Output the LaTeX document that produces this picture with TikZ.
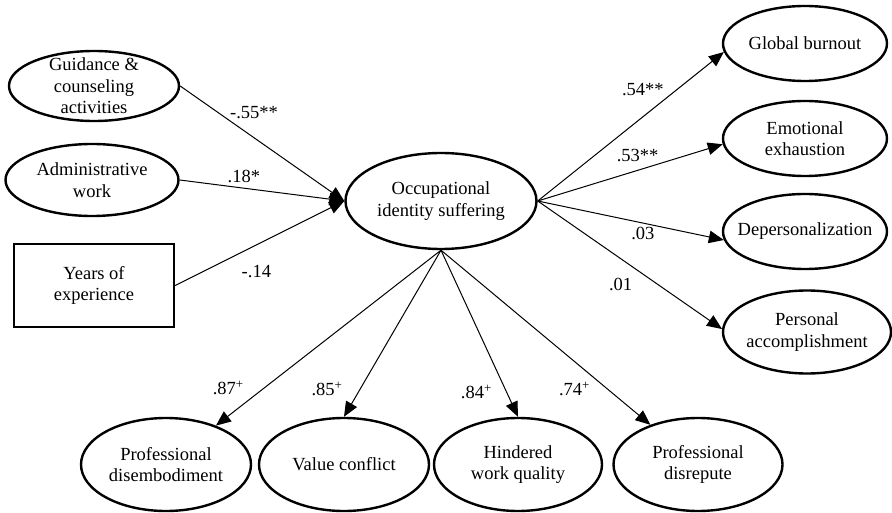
\documentclass[tikz,border=0pt]{standalone}
\usepackage{fontspec}
\setmainfont{Liberation Serif}
\usetikzlibrary{shapes.geometric, arrows.meta}

\begin{document}
\begin{tikzpicture}[x=1pt, y=-1pt,
    every node/.style={font=\fontsize{18.5}{21.5}\selectfont},
    latent/.style={ellipse, draw, line width=2.4pt, align=center,
      inner xsep=-15pt, inner ysep=-12pt},
    observed/.style={rectangle, draw, line width=2.4pt, align=center,
      minimum width=160, minimum height=83},
    path/.style={line width=1pt, -{Triangle[length=15pt, width=12.5pt]}},
    coef/.style={inner sep=0pt}]
  \useasboundingbox (0, 0) rectangle (892, 513);

  % Predictors
  \node [latent, minimum width=170, minimum height=70] (gca) at (94, 86)
    {Guidance \&\\ counseling\\ activities};
  \node [latent, minimum width=173, minimum height=72] (adm) at (92, 180)
    {Administrative\\ work};
  \node [observed] (yrs) at (94, 285.5) {Years of\\ experience};

  % Mediator
  \node [latent, minimum width=191, minimum height=96] (occ) at (441, 201)
    {Occupational\\ identity suffering};

  % Burnout outcomes
  \node [latent, minimum width=164, minimum height=75] (gb) at (805, 43.5)
    {Global burnout};
  \node [latent, minimum width=164, minimum height=75] (ee) at (805, 138.5)
    {Emotional\\ exhaustion};
  \node [latent, minimum width=164, minimum height=75] (dp) at (805, 231.5)
    {Depersonalization};
  \node [latent, minimum width=168, minimum height=83] (pa) at (807, 332)
    {Personal\\ accomplishment};

  % Dimensions of suffering
  \node [latent, minimum width=170, minimum height=93] (pd) at (166, 464.5)
    {Professional\\ disembodiment};
  \node [latent, minimum width=170, minimum height=93] (vc) at (344, 464.5)
    {Value conflict};
  \node [latent, minimum width=168, minimum height=93] (hw) at (518, 464.5)
    {Hindered\\ work quality};
  \node [latent, minimum width=169, minimum height=93] (pr) at (698, 464.5)
    {Professional\\ disrepute};

  % Paths into the mediator
  \draw [path] (gca.east) -- node [coef, pos=0.45, yshift=25pt] {-.55**} (occ.west);
  \draw [path] (adm.east) -- node [coef, pos=0.39, yshift=12pt] {.18*} (occ.west);
  \draw [path] (yrs.east) -- node [coef, pos=0.48, yshift=-27pt] {-.14} (occ.west);

  % Paths out to burnout
  \draw [path] (occ.east) -- node [coef, pos=0.565, yshift=27pt] {.54**} (gb.186);
  \draw [path] (occ.east) -- node [coef, pos=0.54, yshift=15pt] {.53**} (ee.184);
  \draw [path] (occ.east) -- node [coef, pos=0.565, yshift=-10pt] {.03} (dp.186);
  \draw [path] (occ.east) -- node [coef, pos=0.45, yshift=-26pt] {.01} (pa.178);

  % Loadings
  \draw [path] (occ.south) -- node [coef, pos=0.785, xshift=-36pt] {.87\textsuperscript{+}} (pd);
  \draw [path] (occ.south) -- node [coef, pos=0.835, xshift=-33pt] {.85\textsuperscript{+}} (vc.north);
  \draw [path] (occ.south) -- node [coef, pos=0.85, xshift=-30pt] {.84\textsuperscript{+}} (hw.north);
  \draw [path] (occ.south) -- node [coef, pos=0.795, xshift=-33pt] {.74\textsuperscript{+}} (pr);

\end{tikzpicture}
\end{document}
